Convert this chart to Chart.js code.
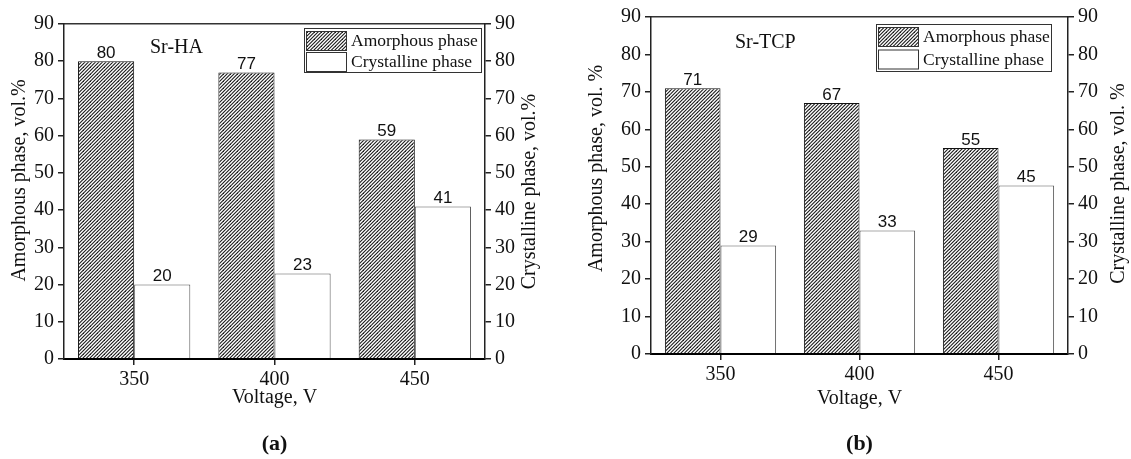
<!DOCTYPE html>
<html lang="en">
<head>
<meta charset="UTF-8">
<title>Amorphous and crystalline phase content vs voltage</title>
<script src="https://cdn.jsdelivr.net/npm/chart.js"></script>
<style>
  body { margin: 0; background: #fff; }
  #wrap { position: relative; width: 1131px; height: 459px; }
  canvas { position: absolute; top: 0; }
  #chartA { left: 0; }
  #chartB { left: 565px; }
</style>
</head>
<body>
<div id="wrap">
  <canvas id="chartA" width="565" height="459"></canvas>
  <canvas id="chartB" width="566" height="459"></canvas>
</div>
<script>
// data
const voltages = ['350', '400', '450'];
const amorphousHA = [80, 77, 59];
const crystallineHA = [20, 23, 41];
const amorphousTCP = [71, 67, 55];
const crystallineTCP = [29, 33, 45];
const yTicks = [0, 10, 20, 30, 40, 50, 60, 70, 80, 90];

const SERIF = '"Liberation Serif", "Times New Roman", serif';
const SANS = '"Liberation Sans", Arial, sans-serif';

// diagonal hatch tile for the amorphous bars
function hatchTile() {
  const c = document.createElement('canvas');
  c.width = 7; c.height = 7;
  const g = c.getContext('2d');
  g.fillStyle = '#fff';
  g.fillRect(0, 0, 7, 7);
  g.strokeStyle = '#1a1a1a';
  g.lineWidth = 1.1;
  for (let k = 0; k <= 14; k += 3.5) {
    g.beginPath();
    g.moveTo(-1, k + 1);
    g.lineTo(k + 1, -1);
    g.stroke();
  }
  return c;
}

function buildPanel(id, amorphous, crystalline, p) {
  const canvas = document.getElementById(id);
  const hatch = canvas.getContext('2d').createPattern(hatchTile(), 'repeat');

  const yAxis = (pos, width) => ({
    type: 'linear',
    position: pos,
    min: 0,
    max: 90,
    afterBuildTicks: s => { s.ticks = yTicks.map(v => ({ value: v })); },
    afterFit: s => { s.width = width; },
    ticks: { font: { family: SERIF, size: 20 }, color: '#111', padding: 4 },
    grid: { drawOnChartArea: false, drawTicks: true, tickLength: 6, color: '#222', lineWidth: 1.5 },
    border: { display: true, color: '#222', width: 1.5, z: 1 }
  });

  // value labels, sample name, legend and the vertical titles
  const decor = {
    id: 'decor' + id,
    afterDatasetsDraw(chart) {
      const { ctx, chartArea: a } = chart;
      ctx.save();

      ctx.font = '17px ' + SANS;
      ctx.fillStyle = '#111';
      ctx.textAlign = 'center';
      ctx.textBaseline = 'alphabetic';
      chart.data.datasets.forEach((ds, i) => {
        chart.getDatasetMeta(i).data.forEach((bar, j) => {
          ctx.fillText(String(ds.data[j]), bar.x, bar.y - 3.5);
        });
      });

      ctx.font = '20px ' + SERIF;
      ctx.textAlign = 'left';
      ctx.textBaseline = 'middle';
      ctx.fillText(p.sample, a.left + p.sampleX, a.top + p.sampleY);

      const L = p.legend;
      const lx = a.right - L.dx, ly = a.top + L.dy;
      ctx.lineWidth = 1;
      ctx.strokeStyle = '#333';
      ctx.strokeRect(lx + 0.5, ly + 0.5, L.w, L.h);
      ctx.font = '17.5px ' + SERIF;
      chart.data.datasets.forEach((ds, i) => {
        const sy = ly + 3 + i * L.row;
        ctx.fillStyle = ds.backgroundColor;
        ctx.fillRect(lx + 2, sy, 40, 19);
        ctx.strokeStyle = '#333';
        ctx.strokeRect(lx + 2.5, sy + 0.5, 40, 19);
        ctx.fillStyle = '#111';
        ctx.fillText(ds.label, lx + 47, sy + 10.5);
      });

      const cy = (a.top + a.bottom) / 2;
      const vt = (text, x, y) => {
        ctx.save();
        ctx.translate(x, y);
        ctx.rotate(-Math.PI / 2);
        ctx.textAlign = 'center';
        ctx.textBaseline = 'middle';
        ctx.font = '20px ' + SERIF;
        ctx.fillStyle = '#111';
        ctx.fillText(text, 0, 0);
        ctx.restore();
      };
      vt(p.leftTitle, a.left - p.leftTitleDx, cy + p.leftTitleDy);
      vt(p.rightTitle, a.right + p.rightTitleDx, cy + p.rightTitleDy);

      ctx.restore();
    }
  };

  return new Chart(canvas, {
    type: 'bar',
    data: {
      labels: voltages,
      datasets: [
        { label: 'Amorphous phase', data: amorphous, backgroundColor: hatch,
          borderColor: '#111', borderWidth: 1, yAxisID: 'y' },
        { label: 'Crystalline phase', data: crystalline, backgroundColor: '#fff',
          borderColor: '#555', borderWidth: 1, yAxisID: 'y2' }
      ]
    },
    options: {
      responsive: false,
      animation: false,
      layout: { padding: { top: p.top } },
      datasets: { bar: { categoryPercentage: 0.8, barPercentage: 1 } },
      scales: {
        x: {
          offset: true,
          afterFit: s => { s.height = p.xH; },
          ticks: { font: { family: SERIF, size: 20 }, color: '#111', padding: 3, maxRotation: 0 },
          grid: { offset: false, drawOnChartArea: false, drawTicks: true, tickLength: 6, color: '#222', lineWidth: 1.5 },
          border: { display: true, color: '#000', width: 2, z: 1 },
          title: { display: true, text: 'Voltage, V', font: { family: SERIF, size: 20 }, color: '#111',
                   padding: { top: 0, bottom: p.xTitlePad } }
        },
        xTop: {
          type: 'category',
          position: 'top',
          afterFit: s => { s.height = 0; },
          ticks: { display: false },
          grid: { display: false },
          border: { display: true, color: '#333', width: 1.5, z: 1 }
        },
        y: yAxis('left', p.leftW),
        y2: yAxis('right', p.rightW)
      },
      plugins: {
        legend: { display: false },
        tooltip: { enabled: false },
        title: {
          display: true,
          position: 'bottom',
          fullSize: false,
          text: p.letter,
          font: { family: SERIF, size: 22, weight: 'bold' },
          color: '#111',
          padding: { top: 0, bottom: 1 }
        }
      }
    },
    plugins: [decor]
  });
}

buildPanel('chartA', amorphousHA, crystallineHA, {
  top: 24, xH: 72.6, xTitlePad: 21.6, leftW: 64, rightW: 80,
  letter: '(a)', sample: 'Sr-HA', sampleX: 86, sampleY: 24,
  legend: { dx: 181, dy: 4, w: 177, h: 44, row: 21 },
  leftTitle: 'Amorphous phase, vol.%', leftTitleDx: 44.5, leftTitleDy: -11,
  rightTitle: 'Crystalline phase, vol.%', rightTitleDx: 45, rightTitleDy: 0
});

buildPanel('chartB', amorphousTCP, crystallineTCP, {
  top: 17, xH: 77.6, xTitlePad: 20.6, leftW: 86, rightW: 63,
  letter: '(b)', sample: 'Sr-TCP', sampleX: 84, sampleY: 26,
  legend: { dx: 192, dy: 7, w: 175, h: 47, row: 22.5 },
  leftTitle: 'Amorphous phase, vol. %', leftTitleDx: 54.5, leftTitleDy: -17,
  rightTitle: 'Crystalline phase, vol. %', rightTitleDx: 51, rightTitleDy: -2
});
</script>
</body>
</html>
